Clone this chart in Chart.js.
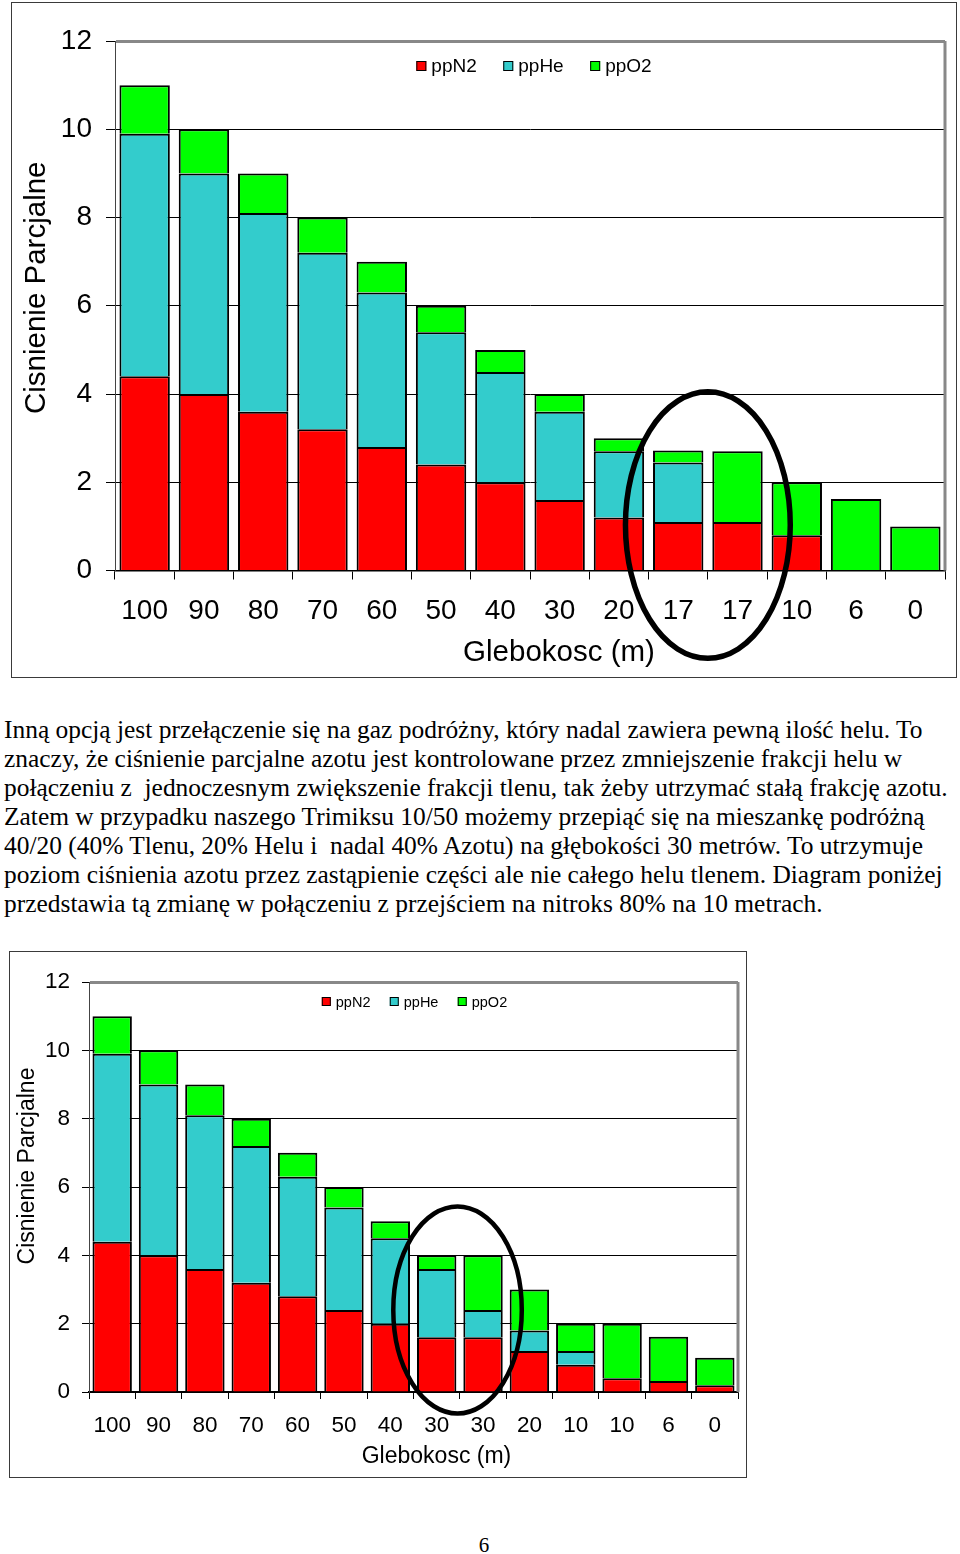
<!DOCTYPE html>
<html>
<head>
<meta charset="utf-8">
<script src="https://cdn.jsdelivr.net/npm/chart.js@4.4.1/dist/chart.umd.min.js"></script>
<style>
  html, body { margin: 0; padding: 0; background: #fff; }
  body { width: 960px; height: 1554px; position: relative; overflow: hidden; }
  .frame { position: absolute; box-sizing: border-box; border: 1px solid #3a3a3a; background: #fff; }
  .frame .wrap { position: relative; width: 100%; height: 100%; }
  #para { position: absolute; left: 4px; top: 715px; font-family: "Liberation Serif", "Times New Roman", serif; color: #000; white-space: pre; }
  #para div { height: 29px; line-height: 29px; }
  #page { position: absolute; left: 0; width: 968px; top: 1531px; text-align: center; font-family: "Liberation Serif", serif; font-size: 21px; line-height: 28px; color: #000; }
</style>
</head>
<body>
<div class="frame" id="f1" style="left:11px;top:2px;width:946px;height:676px;"><div class="wrap"><canvas id="c1"></canvas></div></div>
<div id="para"></div>
<div class="frame" id="f2" style="left:9px;top:951px;width:738px;height:527px;"><div class="wrap"><canvas id="c2"></canvas></div></div>
<div id="page">6</div>
<script>
// ---------- DATA ----------
const seriesNames = ['ppN2', 'ppHe', 'ppO2'];
const yAxisTitle = 'Cisnienie Parcjalne';
const xAxisTitle = 'Glebokosc (m)';

// Chart 1 (top)
const depths1 = ['100', '90', '80', '70', '60', '50', '40', '30', '20', '17', '17', '10', '6', '0'];
const ppN2_1 = [4.4, 4.0, 3.6, 3.2, 2.8, 2.4, 2.0, 1.6, 1.2, 1.1, 1.1, 0.8, 0, 0];
const ppHe_1 = [5.5, 5.0, 4.5, 4.0, 3.5, 3.0, 2.5, 2.0, 1.5, 1.35, 0, 0, 0, 0];
const ppO2_1 = [1.1, 1.0, 0.9, 0.8, 0.7, 0.6, 0.5, 0.4, 0.3, 0.27, 1.6, 1.2, 1.62, 1.0];

// Chart 2 (bottom)
const depths2 = ['100', '90', '80', '70', '60', '50', '40', '30', '30', '20', '10', '10', '6', '0'];
const ppN2_2 = [4.4, 4.0, 3.6, 3.2, 2.8, 2.4, 2.0, 1.6, 1.6, 1.2, 0.8, 0.4, 0.32, 0.2];
const ppHe_2 = [5.5, 5.0, 4.5, 4.0, 3.5, 3.0, 2.5, 2.0, 0.8, 0.6, 0.4, 0, 0, 0];
const ppO2_2 = [1.1, 1.0, 0.9, 0.8, 0.7, 0.6, 0.5, 0.4, 1.6, 1.2, 0.8, 1.6, 1.3, 0.8];

const yTicks = [0, 2, 4, 6, 8, 10, 12];

const paragraphLines = [
  'Inną opcją jest przełączenie się na gaz podróżny, który nadal zawiera pewną ilość helu. To',
  'znaczy, że ciśnienie parcjalne azotu jest kontrolowane przez zmniejszenie frakcji helu w',
  'połączeniu z  jednoczesnym zwiększenie frakcji tlenu, tak żeby utrzymać stałą frakcję azotu.',
  'Zatem w przypadku naszego Trimiksu 10/50 możemy przepiąć się na mieszankę podróżną',
  '40/20 (40% Tlenu, 20% Helu i  nadal 40% Azotu) na głębokości 30 metrów. To utrzymuje',
  'poziom ciśnienia azotu przez zastąpienie części ale nie całego helu tlenem. Diagram poniżej',
  'przedstawia tą zmianę w połączeniu z przejściem na nitroks 80% na 10 metrach.'
];

// ---------- STYLE ----------
const COLORS = ['#ff0000', '#33cccc', '#00ff00'];
const SANS = '"Liberation Sans", Arial, sans-serif';

// paragraph
(function () {
  const para = document.getElementById('para');
  const cv = document.createElement('canvas').getContext('2d');
  cv.font = '100px "Liberation Serif"';
  const w = cv.measureText(paragraphLines[2]).width;
  const fs = 944 / w * 100;
  para.style.fontSize = fs.toFixed(2) + 'px';
  paragraphLines.forEach(t => { const d = document.createElement('div'); d.textContent = t; para.appendChild(d); });
})();

const insideLegend = {
  id: 'insideLegend',
  afterDraw(chart, args, o) {
    const { ctx, chartArea } = chart;
    ctx.save();
    ctx.font = o.size + 'px ' + SANS;
    const items = chart.data.datasets.map(ds => ({ label: ds.label, color: ds.backgroundColor, w: ctx.measureText(ds.label).width }));
    const iw = it => o.box + o.gap + it.w;
    const total = items.reduce((s, it) => s + iw(it), 0) + o.spacing * (items.length - 1);
    let x = (chartArea.left + chartArea.right) / 2 - total / 2 + o.shift;
    const y = chartArea.top + o.offsetY;
    items.forEach(it => {
      ctx.fillStyle = it.color;
      ctx.fillRect(x, y - o.box / 2, o.box, o.box);
      ctx.strokeStyle = '#000';
      ctx.lineWidth = 1;
      ctx.strokeRect(x + 0.5, y - o.box / 2 + 0.5, o.box - 1, o.box - 1);
      ctx.fillStyle = '#000';
      ctx.textBaseline = 'middle';
      ctx.textAlign = 'left';
      ctx.fillText(it.label, x + o.box + o.gap, y + 1);
      x += iw(it) + o.spacing;
    });
    ctx.restore();
  }
};

const axisTitles = {
  id: 'axisTitles',
  afterDraw(chart, args, o) {
    const { ctx, chartArea } = chart;
    ctx.save();
    ctx.fillStyle = '#000';
    ctx.font = o.size + 'px ' + SANS;
    ctx.textAlign = 'center';
    ctx.textBaseline = 'middle';
    ctx.fillText(xAxisTitle, (chartArea.left + chartArea.right) / 2 + o.xdx, chartArea.bottom + o.xdy);
    ctx.translate(chartArea.left - o.ydx, (chartArea.top + chartArea.bottom) / 2 + o.ydy);
    ctx.rotate(-Math.PI / 2);
    ctx.fillText(yAxisTitle, 0, 0);
    ctx.restore();
  }
};

const plotFrame = {
  id: 'plotFrame',
  beforeDatasetsDraw(chart, args, o) {
    const { ctx, chartArea } = chart;
    ctx.save();
    ctx.strokeStyle = o.color;
    ctx.lineWidth = o.width;
    ctx.beginPath();
    ctx.moveTo(chartArea.right, chartArea.top);
    ctx.lineTo(chartArea.right, chartArea.bottom);
    ctx.stroke();
    ctx.restore();
  }
};

const ellipseMark = {
  id: 'ellipseMark',
  afterDraw(chart, args, o) {
    const { ctx } = chart;
    const xs = chart.scales.x, ys = chart.scales.y;
    const cx = xs.getPixelForValue(o.cat);
    const rx = Math.abs(xs.getPixelForValue(o.cat + o.catR) - cx);
    const cy = ys.getPixelForValue(o.val);
    const ry = Math.abs(ys.getPixelForValue(o.val + o.valR) - cy);
    ctx.save();
    ctx.beginPath();
    ctx.ellipse(cx, cy, rx, ry, 0, 0, Math.PI * 2);
    ctx.lineWidth = o.width;
    ctx.strokeStyle = '#000';
    ctx.stroke();
    ctx.restore();
  }
};

function makeChart(id, labels, n2, he, o2, s) {
  const mk = (i, data) => ({
    label: seriesNames[i], data,
    backgroundColor: COLORS[i],
    borderColor: '#000',
    borderWidth: s.bw,
    borderSkipped: 'start',
    barPercentage: 0.85,
    categoryPercentage: 1.0
  });
  return new Chart(document.getElementById(id), {
    type: 'bar',
    data: { labels, datasets: [mk(0, n2), mk(1, he), mk(2, o2)] },
    plugins: [insideLegend, plotFrame, axisTitles, ellipseMark],
    options: {
      responsive: true,
      maintainAspectRatio: false,
      animation: false,
      events: [],
      layout: { padding: s.pad },
      plugins: {
        legend: { display: false },
        tooltip: { enabled: false },
        insideLegend: s.legend,
        axisTitles: s.titles,
        plotFrame: { color: '#888', width: 3 },
        ellipseMark: s.ellipse
      },
      scales: {
        x: {
          stacked: true,
          afterFit(sc) { sc.height = s.xH; },
          grid: { offset: true, drawOnChartArea: false, drawTicks: true, tickLength: s.xTL, color: '#000', tickColor: '#000', lineWidth: 1 },
          border: { display: true, color: '#000', width: 1.5 },
          ticks: { color: '#000', padding: s.xPad, maxRotation: 0, autoSkip: false, font: { family: SANS, size: s.tick } },
          title: { display: false }
        },
        y: {
          stacked: true,
          min: 0, max: 12,
          afterFit(sc) { sc.width = s.yW; },
          afterBuildTicks(sc) { sc.ticks = yTicks.map(v => ({ value: v })); },
          grid: {
            color: c => (c.tick && c.tick.value === 12) ? '#888' : '#000',
            lineWidth: c => (c.tick && c.tick.value === 12) ? 3 : 1,
            tickColor: '#000', tickWidth: 1, tickLength: s.yTL, drawTicks: true
          },
          border: { display: true, color: '#444', width: 1 },
          ticks: { color: '#000', padding: s.yPad, font: { family: SANS, size: s.tick } },
          title: { display: false }
        }
      }
    }
  });
}

makeChart('c1', depths1, ppN2_1, ppHe_1, ppO2_1, {
  bw: 2,
  pad: { left: 8, top: 38, right: 11, bottom: 7 },
  xH: 99.5, yW: 95, xTL: 9, yTL: 9, xPad: 15, yPad: 14, tick: 28,
  titles: { size: 29.5, xdx: 29, xdy: 82.5, ydx: 78, ydy: -18 },
  legend: { size: 19, box: 10, gap: 5, spacing: 26.5, offsetY: 25, shift: 4 },
  ellipse: { cat: 9.5, catR: 1.39, val: 1.03, valR: 3.02, width: 5.5 }
});

makeChart('c2', depths2, ppN2_2, ppHe_2, ppO2_2, {
  bw: 2,
  pad: { left: 4.5, top: 30, right: 8, bottom: 6.5 },
  xH: 78.5, yW: 74.5, xTL: 7, yTL: 7, xPad: 13.5, yPad: 12, tick: 22.5,
  titles: { size: 23, xdx: 23, xdy: 64.5, ydx: 61, ydy: -21 },
  legend: { size: 14.5, box: 9, gap: 5, spacing: 19.3, offsetY: 19.5, shift: 1 },
  ellipse: { cat: 7.45, catR: 1.386, val: 2.4, valR: 3.03, width: 4.5 }
});
</script>
</body>
</html>
